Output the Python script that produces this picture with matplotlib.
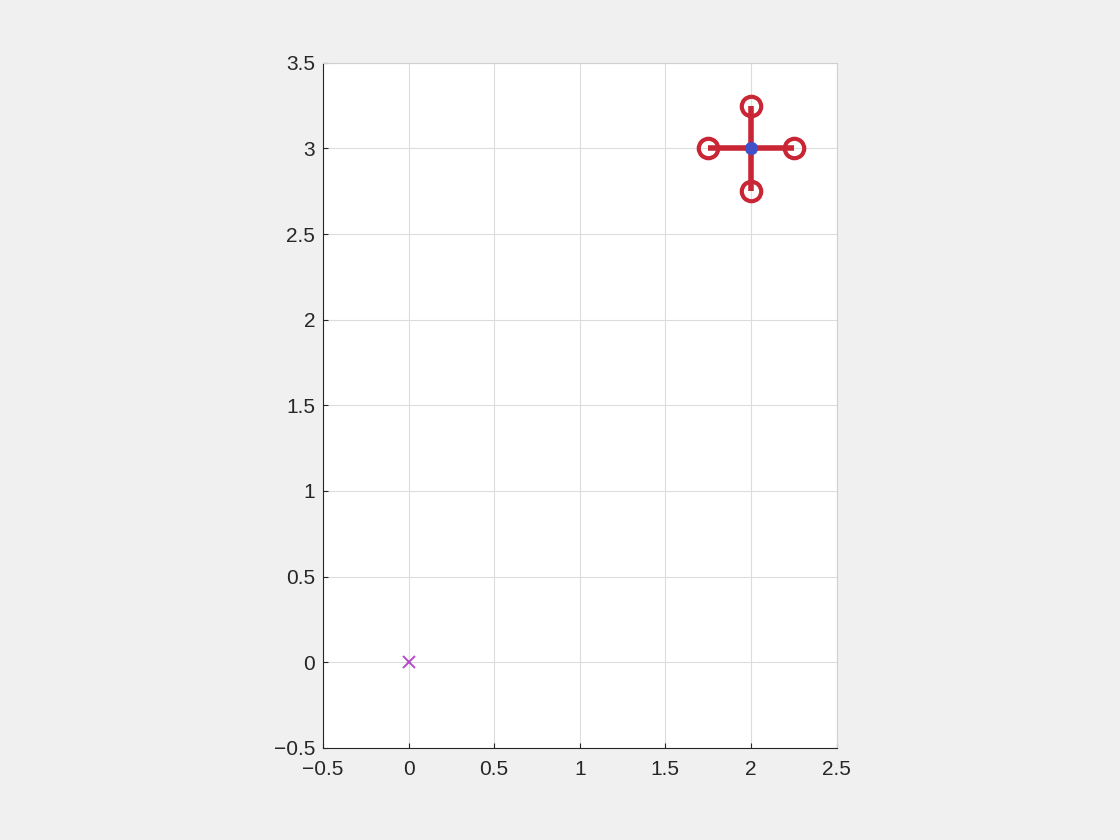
import matplotlib
matplotlib.use("Agg")
import matplotlib.pyplot as plt

arm_x = [1.75, 2.25]
arm_y = [3, 3]
vert_x = [2, 2]
vert_y = [2.75, 3.25]
rotor_x = [1.75, 2.25, 2, 2]
rotor_y = [3, 3, 2.75, 3.25]
center_x = [2]
center_y = [3]
origin_x = [0]
origin_y = [0]
x_ticks = [-0.5, 0, 0.5, 1, 1.5, 2, 2.5]
y_ticks = [-0.5, 0, 0.5, 1, 1.5, 2, 2.5, 3, 3.5]


def tick_fmt(v):
    return f"{v:g}".replace("-", "\u2212")


plt.rcParams['font.family'] = ['Liberation Sans', 'DejaVu Sans']
W, H = 1120, 840
fig = plt.figure(figsize=(W/100, H/100), dpi=100, facecolor='#f0f0f0')
L, R, T, B = 322.9, 836.6, 62.8, 747.8
ax = fig.add_axes([L/W, 1-B/H, (R-L)/W, (B-T)/H], facecolor='white')
ax.set_xlim(-0.5, 2.5)
ax.set_ylim(-0.5, 3.5)
ax.set_xticks(x_ticks)
ax.set_yticks(y_ticks)
ax.set_xticklabels([tick_fmt(v) for v in x_ticks])
ax.set_yticklabels([tick_fmt(v) for v in y_ticks])
ax.grid(True, color='#dcdcdc', lw=0.8)
ax.set_axisbelow(True)
ax.tick_params(direction='in', length=3.6, width=0.8, color='#262626', labelcolor='#262626',
               labelsize=15, top=False, right=False)
ax.tick_params(axis='y', pad=5.5)
ax.tick_params(axis='x', pad=9)
for s in ['left', 'bottom']:
    ax.spines[s].set_color('#262626')
    ax.spines[s].set_linewidth(0.8)
for s in ['top', 'right']:
    ax.spines[s].set_color('#d0d0d0')
    ax.spines[s].set_linewidth(0.8)

red = '#c92535'
ax.plot(arm_x, arm_y, color=red, lw=4, solid_capstyle='butt', zorder=3)
ax.plot(vert_x, vert_y, color=red, lw=4, solid_capstyle='butt', zorder=3)
ax.plot(rotor_x, rotor_y, ls='none', marker='o', ms=14, mfc='none', mec=red, mew=3, zorder=3)
ax.plot(center_x, center_y, ls='none', marker='o', ms=9, mfc='#4050c8', mec='#4050c8', mew=0.5, zorder=4)
ax.plot(origin_x, origin_y, ls='none', marker='x', ms=8, mec='#b44ac8', mew=1.4, zorder=3)

fig.savefig('out.png', dpi=100, facecolor=fig.get_facecolor())
